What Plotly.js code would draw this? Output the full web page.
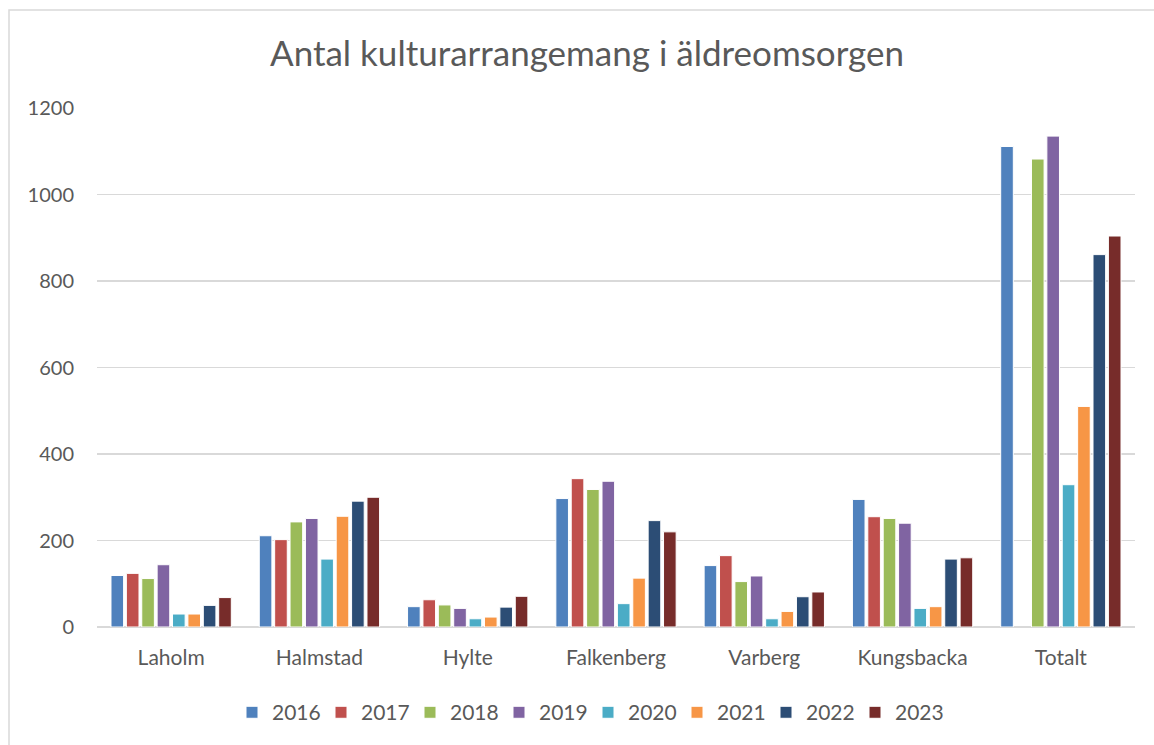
<!DOCTYPE html>
<html>
<head>
<meta charset="utf-8">
<script src="https://cdn.plot.ly/plotly-3.0.1.min.js"></script>
<style>
  html, body { margin: 0; padding: 0; background: #ffffff; }
  #chart { width: 1154px; height: 745px; }
</style>
</head>
<body>
<div id="chart"></div>
<script>
const categories = ["Laholm", "Halmstad", "Hylte", "Falkenberg", "Varberg", "Kungsbacka", "Totalt"];
const years = ["2016", "2017", "2018", "2019", "2020", "2021", "2022", "2023"];

const v2016 = [119, 211, 47, 297, 142, 295, 1111];
const v2017 = [124, 202, 63, 343, 165, 255, null];
const v2018 = [112, 243, 51, 318, 105, 251, 1082];
const v2019 = [144, 251, 43, 337, 118, 240, 1135];
const v2020 = [30, 157, 19, 54, 19, 43, 329];
const v2021 = [30, 256, 23, 113, 36, 47, 510];
const v2022 = [50, 291, 46, 246, 70, 157, 861];
const v2023 = [68, 300, 71, 220, 81, 160, 904];

const seriesValues = [v2016, v2017, v2018, v2019, v2020, v2021, v2022, v2023];
const colors = ["#4f81bd", "#c0504d", "#9bbb59", "#8064a2", "#4bacc6", "#f79646", "#2c4d75", "#772c2a"];

const FONT = "Lato, 'Open Sans', sans-serif";
const TEXT = "#595959";

const traces = years.map((y, i) => ({
  type: "bar",
  name: y,
  x: categories,
  y: seriesValues[i],
  marker: { color: colors[i], line: { color: "#ffffff", width: 1 } },
  hoverinfo: "x+y+name"
}));

const layout = {
  width: 1154,
  height: 745,
  paper_bgcolor: "#ffffff",
  plot_bgcolor: "#ffffff",
  margin: { l: 97, r: 19, t: 108, b: 118 },
  barmode: "group",
  bargap: 0.17,
  bargroupgap: 0.18,
  title: {
    text: "Antal kulturarrangemang i äldreomsorgen",
    font: { family: FONT, size: 35, color: TEXT },
    x: 587 / 1154, xanchor: "center",
    y: 0.928, yanchor: "middle",
    xref: "container"
  },
  xaxis: {
    type: "category",
    showgrid: false,
    zeroline: false,
    showline: false,
    ticks: "",
    tickfont: { family: FONT, size: 21, color: TEXT },
    ticklabelstandoff: 16
  },
  yaxis: {
    range: [0, 1200],
    tickvals: [0, 200, 400, 600, 800, 1000, 1200],
    ticktext: ["0", "200", "400", "600", "800", "1000", "1200"],
    showgrid: true,
    gridcolor: "#d9d9d9",
    gridwidth: 1.5,
    zeroline: true,
    zerolinecolor: "#d9d9d9",
    zerolinewidth: 1.5,
    showline: false,
    ticks: "",
    ticklabelstandoff: 22,
    tickfont: { family: FONT, size: 20, color: TEXT }
  },
  legend: {
    orientation: "h",
    x: (232 - 97) / 1038, xanchor: "left",
    y: -0.165, yanchor: "middle",
    font: { family: FONT, size: 21, color: TEXT },
    itemwidth: 30,
    entrywidth: 44,
    entrywidthmode: "pixels",
    traceorder: "normal"
  },
  shapes: [{
    type: "rect",
    xref: "paper", yref: "paper",
    x0: (9 - 97) / 1038, x1: (1170 - 97) / 1038,
    y0: (627 - 760) / 519, y1: (627 - 10) / 519,
    line: { color: "#d9d9d9", width: 1.5 },
    fillcolor: "rgba(0,0,0,0)",
    layer: "below"
  }],
  showlegend: true
};

Plotly.newPlot("chart", traces, layout, { displayModeBar: false, staticPlot: true });
</script>
</body>
</html>
